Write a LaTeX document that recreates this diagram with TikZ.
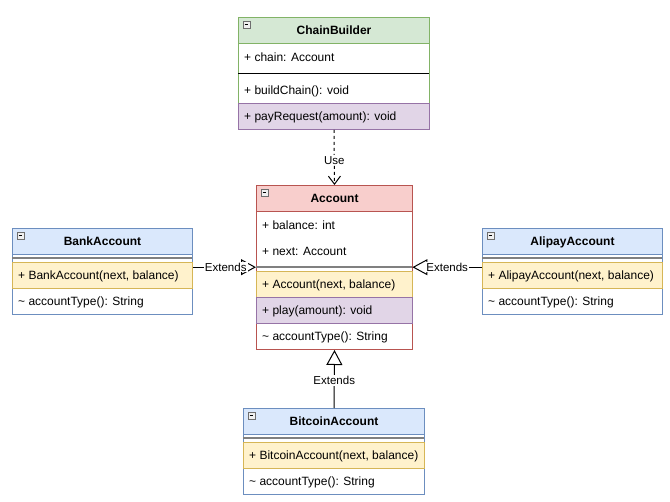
\documentclass[tikz,border=0pt]{standalone}
\usepackage{fontspec}
\setmainfont{Liberation Sans}
\usetikzlibrary{arrows.meta}
\definecolor{gfill}{HTML}{D5E8D4}\definecolor{gline}{HTML}{82B366}
\definecolor{rfill}{HTML}{F8CECC}\definecolor{rline}{HTML}{B85450}
\definecolor{bfill}{HTML}{DAE8FC}\definecolor{bline}{HTML}{6C8EBF}
\definecolor{yfill}{HTML}{FFF2CC}\definecolor{yline}{HTML}{D6B656}
\definecolor{pfill}{HTML}{E1D5E7}\definecolor{pline}{HTML}{9673A6}
\definecolor{sepgray}{HTML}{808080}
\definecolor{icongray}{HTML}{6E6E6E}
\tikzset{
  box/.style={draw, line width=1pt, fill=white, anchor=north west, inner sep=0pt},
  hdr/.style={draw, line width=1pt, anchor=north west, inner sep=0pt, minimum height=26pt, text depth=1pt, font=\fontsize{12}{14}\selectfont\bfseries},
  rowbox/.style={anchor=north west, inner sep=0pt, minimum height=26pt, line width=1pt},
  sepbox/.style={anchor=north west, inner sep=0pt, minimum height=8pt},
  rtext/.style={anchor=west, inner sep=0pt, yshift=-1pt, font=\fontsize{12}{14}\selectfont},
  graysep/.style={draw=sepgray, line width=2pt},
  lbl/.style={fill=white, inner sep=1pt, font=\fontsize{11.5}{13}\selectfont},
  ext/.style={line width=1pt, -{Triangle[open, length=15pt, width=16pt]}},
  usearrow/.style={line width=1pt, dash pattern=on 3pt off 3pt, -{Straight Barb[length=8pt, width=12pt]}},
  collapse/.pic={
    \draw[draw=icongray, fill=gray!12, line width=0.8pt] (0,0) rectangle (7,7);
    \draw[line width=1pt] (1.6,3.5) -- (5.4,3.5);
  }
}
\begin{document}
\begin{tikzpicture}[x=1pt,y=-1pt]
\useasboundingbox (0,0) rectangle (670,502);
\fill[white] (0,0) rectangle (670,502);

% ---------- ChainBuilder ----------
\node[box, draw=gline, minimum width=191pt, minimum height=112pt] (cb) at (238,17) {};
\node[hdr, fill=gfill, draw=gline, minimum width=191pt] (cbh) at (238,17) {ChainBuilder};
\pic at ([xshift=5pt,yshift=-4pt]cbh.north west) {collapse};
\node[rowbox, minimum width=191pt] (cbf1) at (238,43) {};
\node[rtext] (cbf1t) at ([xshift=6pt]cbf1.west) {+ chain: Account};
\node[sepbox, minimum width=191pt] (cbsep) at (238,69) {};
\draw[line width=1pt] (cbsep.west) -- (cbsep.east);
\node[rowbox, minimum width=191pt] (cbm1) at (238,77) {};
\node[rtext] (cbm1t) at ([xshift=6pt]cbm1.west) {+ buildChain(): void};
\node[rowbox, minimum width=191pt, draw=pline, fill=pfill] (cbm2) at (238,103) {};
\node[rtext] (cbm2t) at ([xshift=6pt]cbm2.west) {+ payRequest(amount): void};

% ---------- Account ----------
\node[box, draw=rline, minimum width=156pt, minimum height=164pt] (acc) at (256,185) {};
\node[hdr, fill=rfill, draw=rline, minimum width=156pt] (acch) at (256,185) {Account};
\pic at ([xshift=5pt,yshift=-4pt]acch.north west) {collapse};
\node[rowbox, minimum width=156pt] (accf1) at (256,211) {};
\node[rtext] (accf1t) at ([xshift=6pt]accf1.west) {+ balance: int};
\node[rowbox, minimum width=156pt] (accf2) at (256,237) {};
\node[rtext] (accf2t) at ([xshift=6pt]accf2.west) {+ next: Account};
\node[sepbox, minimum width=156pt] (accsep) at (256,263) {};
\draw[graysep] (accsep.west) -- (accsep.east);
\node[rowbox, minimum width=156pt, draw=yline, fill=yfill] (accm1) at (256,271) {};
\node[rtext] (accm1t) at ([xshift=6pt]accm1.west) {+ Account(next, balance)};
\node[rowbox, minimum width=156pt, draw=pline, fill=pfill] (accm2) at (256,297) {};
\node[rtext] (accm2t) at ([xshift=6pt]accm2.west) {+ play(amount): void};
\node[rowbox, minimum width=156pt] (accm3) at (256,323) {};
\node[rtext] (accm3t) at ([xshift=6pt]accm3.west) {\textasciitilde{} accountType(): String};

% ---------- BankAccount ----------
\node[box, draw=bline, minimum width=180pt, minimum height=86pt] (bank) at (12,228) {};
\node[hdr, fill=bfill, draw=bline, minimum width=180pt] (bankh) at (12,228) {BankAccount};
\pic at ([xshift=5pt,yshift=-4pt]bankh.north west) {collapse};
\node[sepbox, minimum width=180pt] (banksep) at (12,254) {};
\draw[graysep] (banksep.west) -- (banksep.east);
\node[rowbox, minimum width=180pt, draw=yline, fill=yfill] (bankm1) at (12,262) {};
\node[rtext] (bankm1t) at ([xshift=6pt]bankm1.west) {+ BankAccount(next, balance)};
\node[rowbox, minimum width=180pt] (bankm2) at (12,288) {};
\node[rtext] (bankm2t) at ([xshift=6pt]bankm2.west) {\textasciitilde{} accountType(): String};

% ---------- AlipayAccount ----------
\node[box, draw=bline, minimum width=180pt, minimum height=86pt] (ali) at (482,228) {};
\node[hdr, fill=bfill, draw=bline, minimum width=180pt] (alih) at (482,228) {AlipayAccount};
\pic at ([xshift=5pt,yshift=-4pt]alih.north west) {collapse};
\node[sepbox, minimum width=180pt] (alisep) at (482,254) {};
\draw[graysep] (alisep.west) -- (alisep.east);
\node[rowbox, minimum width=180pt, draw=yline, fill=yfill] (alim1) at (482,262) {};
\node[rtext] (alim1t) at ([xshift=6pt]alim1.west) {+ AlipayAccount(next, balance)};
\node[rowbox, minimum width=180pt] (alim2) at (482,288) {};
\node[rtext] (alim2t) at ([xshift=6pt]alim2.west) {\textasciitilde{} accountType(): String};

% ---------- BitcoinAccount ----------
\node[box, draw=bline, minimum width=181pt, minimum height=86pt] (btc) at (243,408) {};
\node[hdr, fill=bfill, draw=bline, minimum width=181pt] (btch) at (243,408) {BitcoinAccount};
\pic at ([xshift=5pt,yshift=-4pt]btch.north west) {collapse};
\node[sepbox, minimum width=181pt] (btcsep) at (243,434) {};
\draw[graysep] (btcsep.west) -- (btcsep.east);
\node[rowbox, minimum width=181pt, draw=yline, fill=yfill] (btcm1) at (243,442) {};
\node[rtext] (btcm1t) at ([xshift=6pt]btcm1.west) {+ BitcoinAccount(next, balance)};
\node[rowbox, minimum width=181pt] (btcm2) at (243,468) {};
\node[rtext] (btcm2t) at ([xshift=6pt]btcm2.west) {\textasciitilde{} accountType(): String};

% ---------- connectors ----------
\draw[usearrow] (cb.south) -- (acc.north) node[lbl, pos=0.55] {Use};
\draw[ext] (btc.north) -- (acc.south) node[lbl, pos=0.475] {Extends};
\draw[ext] (bank.east |- accsep) -- (accsep.west) node[lbl, pos=0.52] {Extends};
\draw[ext] (ali.west |- accsep) -- (accsep.east) node[lbl, pos=0.5] {Extends};
\end{tikzpicture}
\end{document}
